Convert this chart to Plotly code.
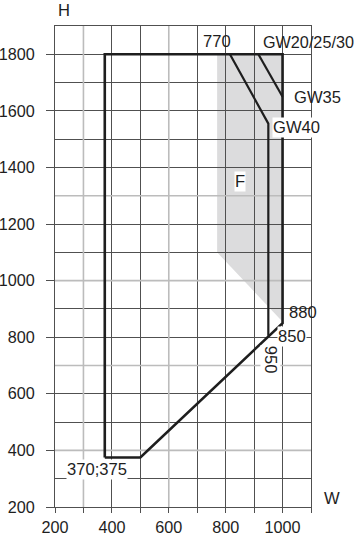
import plotly.graph_objects as go

# ---- data ----
outline_w = [375, 375, 1000, 1000, 500, 375]
outline_h = [375, 1800, 1800, 850, 375, 375]

gw40_w = [815, 950, 950]
gw40_h = [1800, 1555, 805]

gw35_w = [915, 1000]
gw35_h = [1800, 1650]

shade_w = [770, 1000, 1000, 770]
shade_h = [1800, 1800, 855, 1100]

x_ticks = list(range(200, 1101, 100))
x_labels = [str(v) if v % 200 == 0 and v <= 1000 else "" for v in x_ticks]
y_ticks = list(range(200, 1801, 200))
light_x = [300, 600]
light_y = [400, 700, 1000, 1300]

labels = [
    # text, x, y, anchor, bg, angle, size
    ("770", 770, 1845, "center", False, 0, 16.6),
    ("GW20/25/30", 928, 1845, "left", False, 0, 16.2),
    ("GW35", 1036, 1647, "left", False, 0, 16.6),
    ("GW40", 962, 1541, "left", True, 0, 16.6),
    ("F", 850, 1352, "center", True, 0, 16.6),
    ("880", 1018, 889, "left", False, 0, 16.6),
    ("850", 980, 801, "left", True, 0, 16.6),
    ("950", 958, 722, "center", True, 90, 16.6),
    ("370;375", 348, 334, "center", True, 0, 16.6),
]

FONT = "Liberation Sans, Arial, sans-serif"
INK = "#1e1e1e"
GRID = "#505050"
LIGHT = "#bcbcbc"

fig = go.Figure()

fig.add_trace(go.Scatter(x=outline_w, y=outline_h, mode="lines",
                         line=dict(color=INK, width=2.6), hoverinfo="skip"))
fig.add_trace(go.Scatter(x=gw40_w, y=gw40_h, mode="lines",
                         line=dict(color=INK, width=2.2), hoverinfo="skip"))
fig.add_trace(go.Scatter(x=gw35_w, y=gw35_h, mode="lines",
                         line=dict(color=INK, width=2.2), hoverinfo="skip"))

path = "M " + " L ".join(f"{w},{h}" for w, h in zip(shade_w, shade_h)) + " Z"
shapes = [dict(type="path", path=path, xref="x", yref="y", layer="below",
               fillcolor="#dcdcdd", line=dict(width=0))]
for v in light_x:
    shapes.append(dict(type="line", xref="x", yref="y", x0=v, x1=v, y0=200, y1=1900,
                       layer="between", line=dict(color=LIGHT, width=1.6)))
for v in light_y:
    shapes.append(dict(type="line", xref="x", yref="y", x0=200, x1=1100, y0=v, y1=v,
                       layer="between", line=dict(color=LIGHT, width=1.6)))

annotations = []
for text, x, y, anchor, bg, ang, size in labels:
    annotations.append(dict(text=text, x=x, y=y, xref="x", yref="y", showarrow=False,
                            xanchor=anchor, yanchor="middle", textangle=ang,
                            font=dict(family=FONT, size=size, color=INK),
                            bgcolor="white" if bg else "rgba(0,0,0,0)",
                            borderpad=0))
annotations.append(dict(text="H", x=0.004, y=1.032, xref="paper", yref="paper", showarrow=False,
                        xanchor="left", yanchor="middle",
                        font=dict(family=FONT, size=16.6, color=INK)))
annotations.append(dict(text="W", x=1.042, y=0.017, xref="paper", yref="paper", showarrow=False,
                        xanchor="left", yanchor="middle",
                        font=dict(family=FONT, size=16.6, color=INK)))

fig.update_layout(
    width=357, height=538,
    margin=dict(l=55, r=46, t=26, b=31, autoexpand=False),
    paper_bgcolor="white", plot_bgcolor="white",
    showlegend=False,
    shapes=shapes, annotations=annotations,
    font=dict(family=FONT, size=16, color=INK),
)
fig.update_xaxes(range=[200, 1100], tickmode="array", tickvals=x_ticks, ticktext=x_labels,
                 ticks="outside", ticklen=5, tickcolor=GRID, tickwidth=1,
                 ticklabelstandoff=1, automargin=False,
                 showgrid=True, gridcolor=GRID, gridwidth=1, zeroline=False,
                 showline=True, linecolor=GRID, linewidth=1, mirror=True,
                 tickfont=dict(family=FONT, size=16.2, color=INK), fixedrange=True)
fig.update_yaxes(range=[200, 1900], tickmode="array", tickvals=y_ticks,
                 ticks="outside", ticklen=8, tickcolor=GRID, tickwidth=1,
                 ticklabelstandoff=8, automargin=False,
                 showgrid=True, gridcolor=GRID, gridwidth=1, zeroline=False,
                 minor=dict(dtick=100, tick0=200, showgrid=True, gridcolor=GRID, gridwidth=1, ticks=""),
                 showline=True, linecolor=GRID, linewidth=1, mirror=True,
                 tickfont=dict(family=FONT, size=16.2, color=INK), fixedrange=True)

fig.write_html("out.html", config=dict(displayModeBar=False))
